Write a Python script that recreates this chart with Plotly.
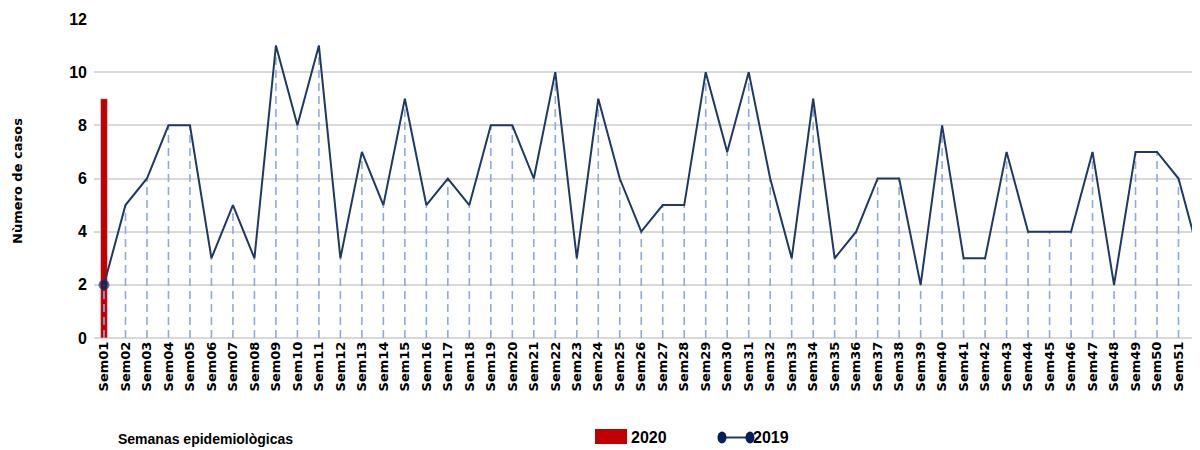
import plotly.graph_objects as go

weeks = [f"Sem{i:02d}" for i in range(1, 53)]
cases_2019 = [2, 5, 6, 8, 8, 3, 5, 3, 11, 8, 11, 3, 7, 5, 9, 5, 6, 5, 8, 8,
              6, 10, 3, 9, 6, 4, 5, 5, 10, 7, 10, 6, 3, 9, 3, 4, 6, 6, 2, 8,
              3, 3, 7, 4, 4, 4, 7, 2, 7, 7, 6, 3]
weeks_2020 = ["Sem01"]
cases_2020 = [9]

# page has an 8px body margin: the figure is offset by 8px on screen
OFF = 8
W, H = 1200 - OFF, 450 - OFF
ML, MR, MT, MB = 94 - OFF, 0, 19 - OFF, 450 - 338
PW, PH = W - ML - MR, H - MT - MB


def px(x):
    return (x - OFF - ML) / PW


def py(y):
    return (H - MB - (y - OFF)) / PH


NAVY = "#1f3864"
DARK = "#002060"
RED = "#c00000"
LBLUE = "#8faadc"
SANS = "Liberation Sans, Arial, sans-serif"
DEJAVU = "DejaVu Sans, Verdana, sans-serif"

# drop lines
dx, dy = [], []
for w, v in zip(weeks, cases_2019):
    dx += [w, w, None]
    dy += [0, v, None]

fig = go.Figure()
fig.add_trace(go.Bar(x=weeks_2020, y=cases_2020, name="2020", marker_color=RED,
                     width=0.32, showlegend=False))
fig.add_trace(go.Scatter(x=dx, y=dy, mode="lines", showlegend=False,
                         line=dict(color=LBLUE, width=1.6, dash="8px,5px"),
                         hoverinfo="skip"))
sizes = [0] * len(cases_2019)
sizes[0] = 10
sizes[-1] = 10
fig.add_trace(go.Scatter(x=weeks, y=cases_2019, mode="lines+markers", name="2019",
                         line=dict(color=NAVY, width=2),
                         marker=dict(color=DARK, size=sizes),
                         showlegend=False, cliponaxis=False))

fig.update_layout(
    width=W, height=H,
    margin=dict(l=ML, r=MR, t=MT, b=MB, autoexpand=False),
    plot_bgcolor="white", paper_bgcolor="white",
    barmode="overlay",
    xaxis=dict(type="category", range=[-0.465, 51.0], showgrid=False,
               showline=False, zeroline=False, tickangle=-90, automargin=False,
               tickfont=dict(family=DEJAVU, size=13, color="black", weight="bold"),
               ticks="", ticklen=0),
    yaxis=dict(range=[0, 12], dtick=2, showgrid=True, gridcolor="#d9d9d9",
               gridwidth=2, zeroline=True, zerolinecolor="#d9d9d9", zerolinewidth=2,
               showline=False, ticks="", automargin=False, ticklabelstandoff=6,
               tickfont=dict(family=SANS, size=16, color="black", weight="bold")),
)

annotations = [
    dict(text="Nùmero de casos", x=px(17), y=py(181), xref="paper", yref="paper",
         textangle=-90, showarrow=False, xanchor="center", yanchor="middle",
         font=dict(family=DEJAVU, size=13, color="black", weight="bold")),
    dict(text="Semanas epidemiològicas", x=px(116), y=py(439), xref="paper", yref="paper",
         showarrow=False, xanchor="left", yanchor="middle",
         font=dict(family=SANS, size=14, color="black", weight="bold")),
    dict(text="2020", x=px(629), y=py(437), xref="paper", yref="paper",
         showarrow=False, xanchor="left", yanchor="middle",
         font=dict(family=SANS, size=16, color="black", weight="bold")),
    dict(text="2019", x=px(751), y=py(437), xref="paper", yref="paper",
         showarrow=False, xanchor="left", yanchor="middle",
         font=dict(family=SANS, size=16, color="black", weight="bold")),
]
shapes = [
    dict(type="rect", xref="paper", yref="paper", x0=px(595), x1=px(627),
         y0=py(444), y1=py(429), fillcolor=RED, line=dict(width=0)),
    dict(type="line", xref="paper", yref="paper", x0=px(722), x1=px(750),
         y0=py(437.5), y1=py(437.5), line=dict(color=NAVY, width=2)),
    dict(type="circle", xref="paper", yref="paper", x0=px(717.5), x1=px(726.5),
         y0=py(443.5), y1=py(431.5), fillcolor=DARK, line=dict(width=0)),
    dict(type="circle", xref="paper", yref="paper", x0=px(745.5), x1=px(754.5),
         y0=py(443.5), y1=py(431.5), fillcolor=DARK, line=dict(width=0)),
]
fig.update_layout(annotations=annotations, shapes=shapes)

fig.write_html("out.html")
